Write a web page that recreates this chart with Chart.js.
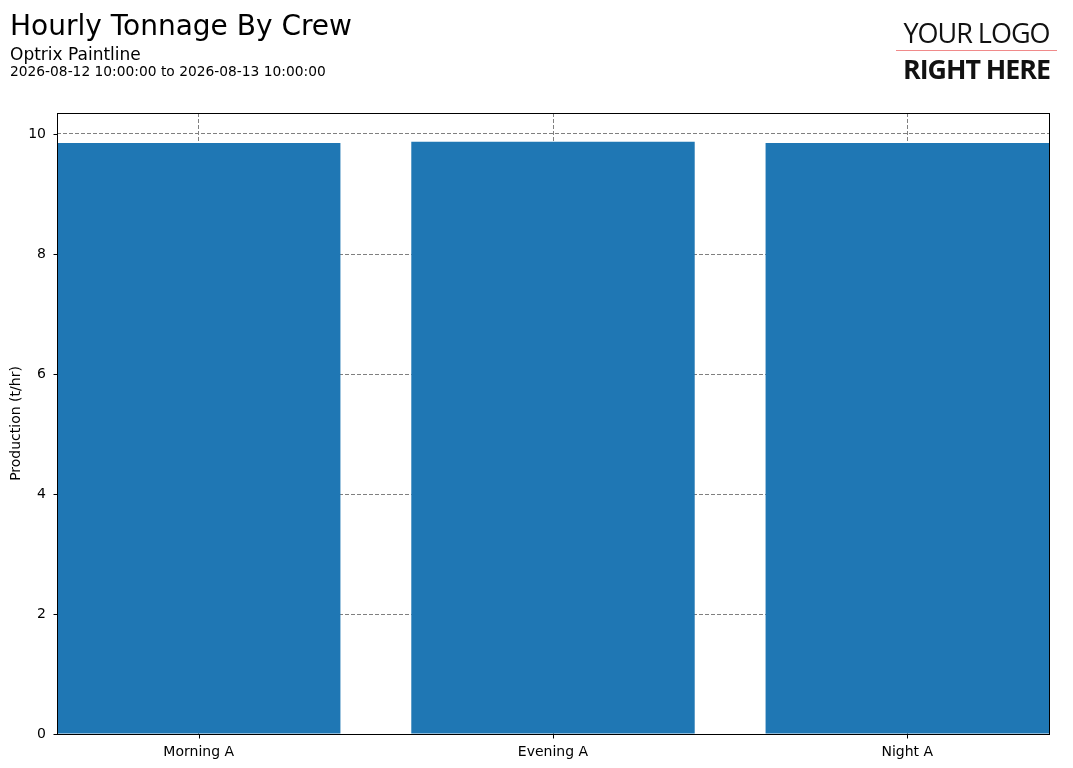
<!DOCTYPE html>
<html>
<head>
<meta charset="utf-8">
<script src="https://cdn.jsdelivr.net/npm/chart.js@4"></script>
<style>
  body { margin: 0; background: #fff; font-family: "DejaVu Sans", sans-serif; }
  #wrap { position: relative; width: 1073px; height: 768px; }
  #chart { position: absolute; left: 0; top: 0; }
  .t1 { position: absolute; left: 10px; top: 9px; font-size: 28px; color: #000; }
  .t2 { position: absolute; left: 10px; top: 44px; font-size: 17px; color: #000; }
  .t3 { position: absolute; left: 10px; top: 63px; font-size: 13.8px; color: #000; }
  .logo1 { position: absolute; left: 896px; width: 161px; top: 14px; text-align: center; font-family: "Open Sans", sans-serif; font-size: 27px; letter-spacing: -1px; color: #111; }
  .logoline { position: absolute; left: 896px; width: 161px; top: 50px; height: 1px; background: #f08a8a; }
  .logo2 { position: absolute; left: 896px; width: 161px; top: 51px; text-align: center; font-family: "Open Sans", sans-serif; font-weight: bold; font-size: 26px; letter-spacing: -1px; color: #111; transform: scaleX(1.03); }
</style>
</head>
<body>
<div id="wrap">
  <canvas id="chart" width="1073" height="768"></canvas>
  <div class="t1">Hourly Tonnage By Crew</div>
  <div class="t2">Optrix Paintline</div>
  <div class="t3">2026-08-12 10:00:00 to 2026-08-13 10:00:00</div>
  <div class="logo1">YOUR LOGO</div>
  <div class="logoline"></div>
  <div class="logo2">RIGHT HERE</div>
</div>
<script>
// 크루별 데이터
const crews = ['Morning A', 'Evening A', 'Night A'];
const tonnage = [9.85, 9.87, 9.85];
const yTicks = [0, 2, 4, 6, 8, 10];

// 차트 영역 테두리와 눈금 표시
const frame = {
    id: 'frame',
    afterDatasetsDraw(chart) {
        const a = chart.chartArea;
        const ctx = chart.ctx;
        const L = Math.round(a.left) + 0.5, T = Math.round(a.top) + 0.5;
        const R = Math.round(a.right) + 0.5, B = Math.round(a.bottom) + 0.5;
        ctx.save();
        ctx.strokeStyle = '#000';
        ctx.lineWidth = 1;
        ctx.setLineDash([]);
        ctx.strokeRect(L, T, R - L, B - T);
        ctx.beginPath();
        yTicks.forEach(v => {
            const y = Math.round(chart.scales.y.getPixelForValue(v)) + 0.5;
            ctx.moveTo(L - 4, y); ctx.lineTo(L, y);
        });
        crews.forEach((c, i) => {
            const x = Math.round(chart.scales.x.getPixelForValue(i)) + 0.5;
            ctx.moveTo(x, B); ctx.lineTo(x, B + 4);
        });
        ctx.stroke();
        ctx.restore();
    }
};

const ctx = document.getElementById('chart').getContext('2d');
new Chart(ctx, {
    type: 'bar',
    data: {
        datasets: [{
            data: tonnage.map((v, i) => ({ x: i, y: v })),
            backgroundColor: '#1f77b4',
            borderWidth: 0,
            categoryPercentage: 1,
            barPercentage: 0.8
        }]
    },
    options: {
        responsive: false,
        animation: false,
        layout: { padding: { top: 113, right: 24, left: 0, bottom: 0 } },
        plugins: { legend: { display: false }, tooltip: { enabled: false } },
        scales: {
            x: {
                type: 'linear',
                min: -0.4,
                max: 2.4,
                offset: false,
                afterBuildTicks(s) { s.ticks = crews.map((c, i) => ({ value: i })); },
                grid: { offset: false, color: '#808080', lineWidth: 1, drawTicks: false },
                border: { display: false, dash: [4, 2] },
                ticks: {
                    color: '#000',
                    font: { family: 'DejaVu Sans', size: 14 },
                    padding: 10,
                    callback: v => crews[v]
                },
                afterFit(s) { s.height = 34; }
            },
            y: {
                min: 0,
                max: 10.35,
                afterBuildTicks(s) { s.ticks = yTicks.map(v => ({ value: v })); },
                grid: { color: '#808080', lineWidth: 1, drawTicks: false },
                border: { display: false, dash: [4, 2] },
                ticks: {
                    color: '#000',
                    font: { family: 'DejaVu Sans', size: 14 },
                    padding: 11,
                    callback: v => v
                },
                title: { display: true, text: 'Production (t/hr)', color: '#000', font: { family: 'DejaVu Sans', size: 14 }, padding: { top: 8, bottom: 0 } },
                afterFit(s) { s.width = 57; }
            }
        }
    },
    plugins: [frame]
});
</script>
</body>
</html>
